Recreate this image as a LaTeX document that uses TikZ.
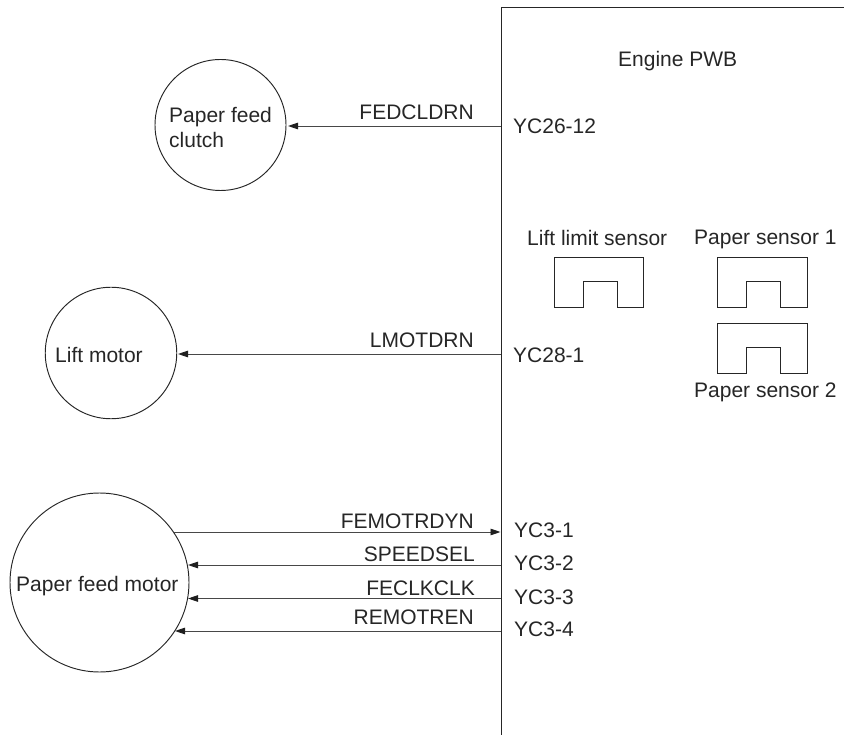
\documentclass[tikz,border=0pt]{standalone}
\usepackage{fontspec}
\setmainfont{Liberation Sans}
\usetikzlibrary{arrows.meta}
\tikzset{
 x=1pt,y=-1pt,
 ink/.style={draw=black!85,line width=.95pt},
 disc/.style={circle,ink,inner sep=0pt},
 lab/.style={font=\fontsize{21}{24.5}\selectfont,text=black!85,inner sep=0pt},
 sig/.style={lab,anchor=base east},
 pin/.style={lab,anchor=base west},
 wire/.style={draw=black!72,line width=.95pt,-{Triangle[length=10pt,width=6.5pt,color=black!88]}},
 sensor/.style={ink,line join=miter},
}
\begin{document}
\begin{tikzpicture}
\useasboundingbox (0,0) rectangle (844,735);
\draw[ink] (844,7) -- (501,7) -- (501,735);
\node[pin] (pwb) at (618,66.5) {Engine PWB};
\node[disc,minimum size=131pt] (clutch) at (220.5,125) {};
\node[pin] (clutcht) at (169,123) {Paper feed};
\node[pin] (clutchu) at (169,148) {clutch};
\node[disc,minimum size=131.5pt] (lift) at (111,353) {};
\node[pin] (liftt) at (55,363) {Lift motor};
\node[disc,minimum size=179pt] (feed) at (99.5,582.5) {};
\node[pin] (feedt) at (16,591.5) {Paper feed motor};
\coordinate (p1) at (501,126);
\coordinate (p2) at (501,354);
\coordinate (p3) at (500.5,532);
\coordinate (p4) at (501,565);
\coordinate (p5) at (501,598.5);
\coordinate (p6) at (501,631);
\coordinate (q1) at (288,126);
\coordinate (q2) at (178,354);
\coordinate (q3) at (174,532);
\coordinate (q4) at (188,565);
\coordinate (q5) at (188,598.5);
\coordinate (q6) at (175,631);
\draw[wire] (p1) -- (q1);
\draw[wire] (p2) -- (q2);
\draw[wire] (q3) -- (p3);
\draw[wire] (p4) -- (q4);
\draw[wire] (p5) -- (q5);
\draw[wire] (p6) -- (q6);
\node[sig] at (474,119.5) {FEDCLDRN};
\node[sig] at (474,347.5) {LMOTDRN};
\node[sig] at (474,528) {FEMOTRDYN};
\node[sig] at (475,561) {SPEEDSEL};
\node[sig] at (475,595) {FECLKCLK};
\node[sig] at (474,624.5) {REMOTREN};
\node[pin] at (513,133.5) {YC26-12};
\node[pin] at (513,363) {YC28-1};
\node[pin] at (514,537.5) {YC3-1};
\node[pin] at (514,570.5) {YC3-2};
\node[pin] at (514,604) {YC3-3};
\node[pin] at (514,636.5) {YC3-4};
\node[pin] at (527,246) {Lift limit sensor};
\node[pin] at (694,245) {Paper sensor 1};
\node[pin] at (694,398) {Paper sensor 2};
\draw[sensor] (554,307) -- (554,257) -- (643,257) -- (643,307) -- (617,307) -- (617,281) -- (583,281) -- (583,307) -- cycle;
\draw[sensor] (717,307) -- (717,257) -- (807,257) -- (807,307) -- (780,307) -- (780,281) -- (746,281) -- (746,307) -- cycle;
\draw[sensor] (717,373) -- (717,323) -- (807,323) -- (807,373) -- (780,373) -- (780,347) -- (746,347) -- (746,373) -- cycle;
\end{tikzpicture}
\end{document}
